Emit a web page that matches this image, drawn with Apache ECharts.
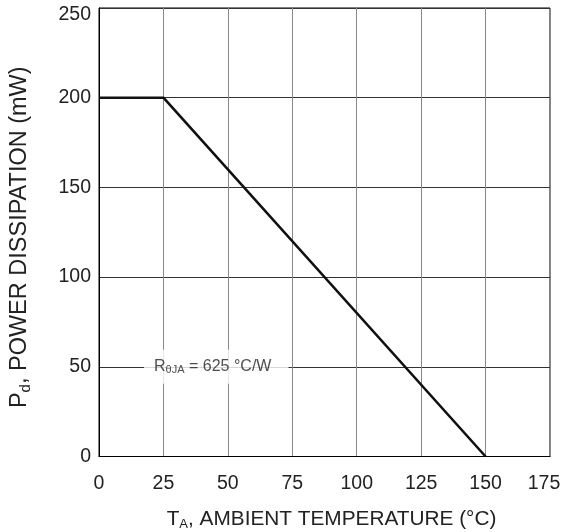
<!DOCTYPE html>
<html><head><meta charset="utf-8">
<script src="https://cdn.jsdelivr.net/npm/echarts@6/dist/echarts.min.js"></script>
<style>html,body{margin:0;padding:0;background:#fff}#c{width:563px;height:532px}</style>
</head><body><div id="c"></div>
<script>
const temps = [0, 25, 150];
const power = [200, 200, 0];
const xTicks = [0, 25, 50, 75, 100, 125, 150, 175];
const yTicks = [0, 50, 100, 150, 200, 250];
const annot = {x: 45.5, y: 50};

const chart = echarts.init(document.getElementById('c'), null, {renderer: 'canvas'});
const F = 'Liberation Sans, Arial, sans-serif';
chart.setOption({
  animation: false,
  grid: {left: 99, top: 8, right: 13, bottom: 75.5, show: true, borderColor: '#000', borderWidth: 1,
         containLabel: false, outerBoundsMode: 'none'},
  xAxis: {
    type: 'value', min: 0, max: 175, interval: 25,
    axisLine: {show: true, lineStyle: {color: '#000', width: 1}},
    axisTick: {show: false},
    axisLabel: {color: '#222', fontSize: 19.5, fontFamily: F, margin: 17,
      formatter: v => v === 175 ? '{t|175}' : String(v),
      rich: {t: {fontSize: 19.5, fontFamily: F, color: '#222', padding: [0, 12, 0, 0]}}},
    splitLine: {show: true, lineStyle: {color: '#888', width: 1}},
    name: '{a|T}{s|A}{a|, AMBIENT TEMPERATURE (°C)}',
    nameLocation: 'middle', nameGap: 51,
    nameTextStyle: {padding: [0, 0, 0, 14], rich: {a: {fontSize: 20.8, fontFamily: F, color: '#222'}, s: {fontSize: 13, fontFamily: F, color: '#222', verticalAlign: 'bottom', padding: [10,0,0,0]}}}
  },
  yAxis: {
    type: 'value', min: 0, max: 250, interval: 50,
    axisLine: {show: true, lineStyle: {color: '#000', width: 1}},
    axisTick: {show: false},
    axisLabel: {color: '#222', fontSize: 19.5, fontFamily: F, margin: 8,
      formatter: v => v === 250 ? '{t|250}' : String(v),
      rich: {t: {fontSize: 19.5, fontFamily: F, color: '#222', padding: [13, 0, 0, 0]}}},
    splitLine: {show: true, lineStyle: {color: '#333', width: 1}},
    name: '{a|P}{s|d}{a|, POWER DISSIPATION (mW)}',
    nameLocation: 'middle', nameGap: 66, nameRotate: 90,
    nameTextStyle: {padding: [0, 10, 0, 0], rich: {a: {fontSize: 23.5, fontFamily: F, color: '#222'}, s: {fontSize: 15, fontFamily: F, color: '#222', verticalAlign: 'bottom', padding: [11,0,0,0]}}}
  },
  series: [
    {
      type: 'line', data: temps.map((t, i) => [t, power[i]]),
      symbol: 'none', lineStyle: {color: '#111', width: 2.6}
    },
    {
      type: 'scatter', data: [[annot.x, annot.y]], symbolSize: 0, silent: true,
      label: {
        show: true, position: 'inside',
        formatter: '{a|R}{s|θJA}{a| = 625 °C/W}',
        backgroundColor: '#fff', padding: [8, 17, 8, 10],
        rich: {a: {fontSize: 16, fontFamily: F, color: '#222'}, s: {fontSize: 11, fontFamily: F, color: '#222', verticalAlign: 'bottom', padding: [7,0,0,0]}}
      }
    }
  ]
});
</script></body></html>
